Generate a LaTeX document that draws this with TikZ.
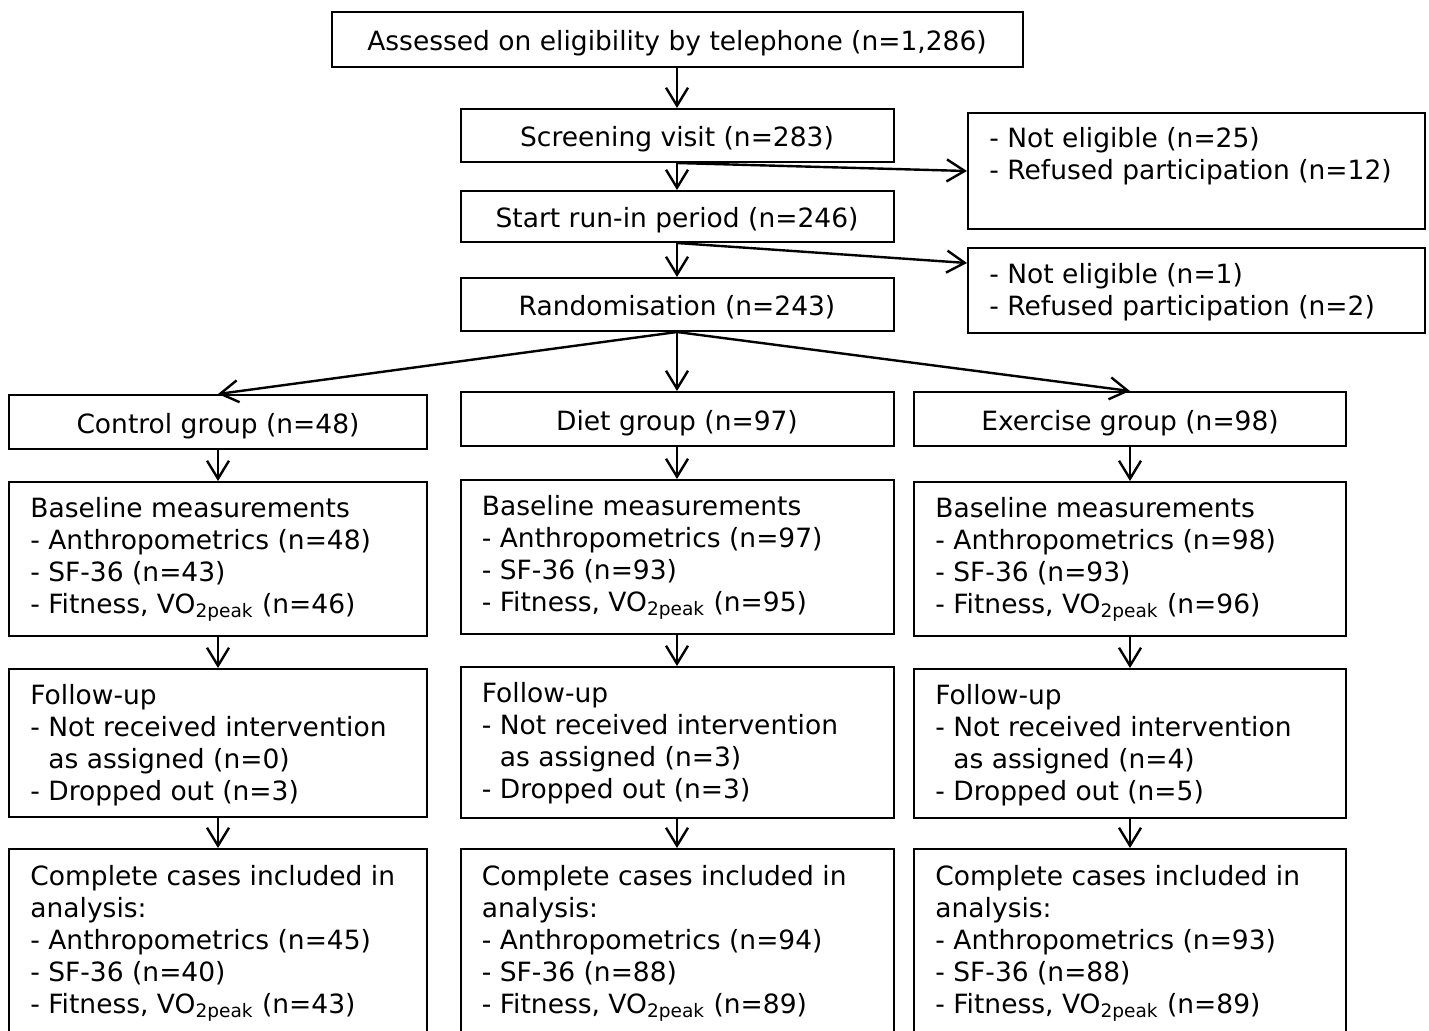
\documentclass[tikz,border=0pt]{standalone}
\usepackage{fontspec}
\setmainfont{DejaVu Sans}
\usetikzlibrary{arrows.meta}

\begin{document}
\begin{tikzpicture}[x=0.5pt,y=-0.5pt,
  box/.style={draw, line width=1pt, font=\fontsize{13.25}{16}\selectfont, inner sep=0pt},
  cbox/.style={box, align=center, text height=11.3pt, text depth=0pt},
  txt/.style={font=\fontsize{13.25}{16}\selectfont, align=left, inner xsep=11pt, inner ysep=0pt, anchor=north west},
  arr/.style={-{Straight Barb[length=9pt,width=11pt]}, line width=1.2pt}]
\clip (0,0) rectangle (1429,1030);

\node[cbox, minimum width=345.5pt, minimum height=27.5pt] (assess) at (677,39.5) {Assessed on eligibility by telephone (n=1,286)};
\node[cbox, minimum width=216.5pt, minimum height=26.5pt] (screen) at (677,135.5) {Screening visit (n=283)};
\node[cbox, minimum width=216.5pt, minimum height=25.5pt] (runin) at (677,216.5) {Start run-in period (n=246)};
\node[cbox, minimum width=216.5pt, minimum height=26.5pt] (random) at (677,304.5) {Randomisation (n=243)};

\node[box, minimum width=228.5pt, minimum height=58pt] (excl1) at (1196.5,171) {};
\node[box, minimum width=228.5pt, minimum height=42.5pt] (excl2) at (1196.5,290.5) {};
\node[txt] (excl1txt) at ([yshift=-7.5pt]excl1.north west) {- Not eligible (n=25)\\- Refused participation (n=12)};
\node[txt] (excl2txt) at ([yshift=-8pt]excl2.north west) {- Not eligible (n=1)\\- Refused participation (n=2)};

\node[cbox, minimum width=209pt, minimum height=27pt] (control) at (218,422) {Control group (n=48)};
\node[cbox, minimum width=216.5pt, minimum height=27pt] (diet) at (677,419) {Diet group (n=97)};
\node[cbox, minimum width=216pt, minimum height=27pt] (exer) at (1130,419) {Exercise group (n=98)};

\node[box, minimum width=209pt, minimum height=77pt] (basec) at (218,559) {};
\node[box, minimum width=216.5pt, minimum height=77pt] (based) at (677,557) {};
\node[box, minimum width=216pt, minimum height=77pt] (basee) at (1130,559) {};
\node[txt] (basectxt) at ([yshift=-8pt]basec.north west) {Baseline measurements\\- Anthropometrics (n=48)\\- SF-36 (n=43)\\- Fitness, VO\textsubscript{2peak} (n=46)};
\node[txt] (basedtxt) at ([yshift=-8pt]based.north west) {Baseline measurements\\- Anthropometrics (n=97)\\- SF-36 (n=93)\\- Fitness, VO\textsubscript{2peak} (n=95)};
\node[txt] (baseetxt) at ([yshift=-8pt]basee.north west) {Baseline measurements\\- Anthropometrics (n=98)\\- SF-36 (n=93)\\- Fitness, VO\textsubscript{2peak} (n=96)};

\node[box, minimum width=209pt, minimum height=74pt] (followc) at (218,743) {};
\node[box, minimum width=216.5pt, minimum height=75.5pt] (followd) at (677,742.5) {};
\node[box, minimum width=216pt, minimum height=74.5pt] (followe) at (1130,743.5) {};
\node[txt] (followctxt) at ([yshift=-8pt]followc.north west) {Follow-up\\- Not received intervention\\\hphantom{-} as assigned (n=0)\\- Dropped out (n=3)};
\node[txt] (followdtxt) at ([yshift=-8pt]followd.north west) {Follow-up\\- Not received intervention\\\hphantom{-} as assigned (n=3)\\- Dropped out (n=3)};
\node[txt] (followetxt) at ([yshift=-8pt]followe.north west) {Follow-up\\- Not received intervention\\\hphantom{-} as assigned (n=4)\\- Dropped out (n=5)};

\node[box, minimum width=209pt, minimum height=100pt, anchor=north] (compc) at (218,848) {};
\node[box, minimum width=216.5pt, minimum height=100pt, anchor=north] (compd) at (677,848) {};
\node[box, minimum width=216pt, minimum height=100pt, anchor=north] (compe) at (1130,848) {};
\node[txt] (compctxt) at ([yshift=-8.5pt]compc.north west) {Complete cases included in\\analysis:\\- Anthropometrics (n=45)\\- SF-36 (n=40)\\- Fitness, VO\textsubscript{2peak} (n=43)};
\node[txt] (compdtxt) at ([yshift=-8.5pt]compd.north west) {Complete cases included in\\analysis:\\- Anthropometrics (n=94)\\- SF-36 (n=88)\\- Fitness, VO\textsubscript{2peak} (n=89)};
\node[txt] (competxt) at ([yshift=-8.5pt]compe.north west) {Complete cases included in\\analysis:\\- Anthropometrics (n=93)\\- SF-36 (n=88)\\- Fitness, VO\textsubscript{2peak} (n=89)};

\draw[arr] (assess) -- (screen);
\draw[arr] (screen) -- (runin);
\draw[arr] (screen.south) -- (excl1.west);
\draw[arr] (runin) -- (random);
\draw[arr] (runin.south) -- ([yshift=-8pt]excl2.north west);
\draw[arr] (random.south) -- (control.north);
\draw[arr] (random) -- (diet);
\draw[arr] (random.south) -- (exer.north);

\draw[arr] (control) -- (basec);
\draw[arr] (diet) -- (based);
\draw[arr] (exer) -- (basee);
\draw[arr] (basec) -- (followc);
\draw[arr] (based) -- (followd);
\draw[arr] (basee) -- (followe);
\draw[arr] (followc) -- (compc);
\draw[arr] (followd) -- (compd);
\draw[arr] (followe) -- (compe);
\end{tikzpicture}
\end{document}
